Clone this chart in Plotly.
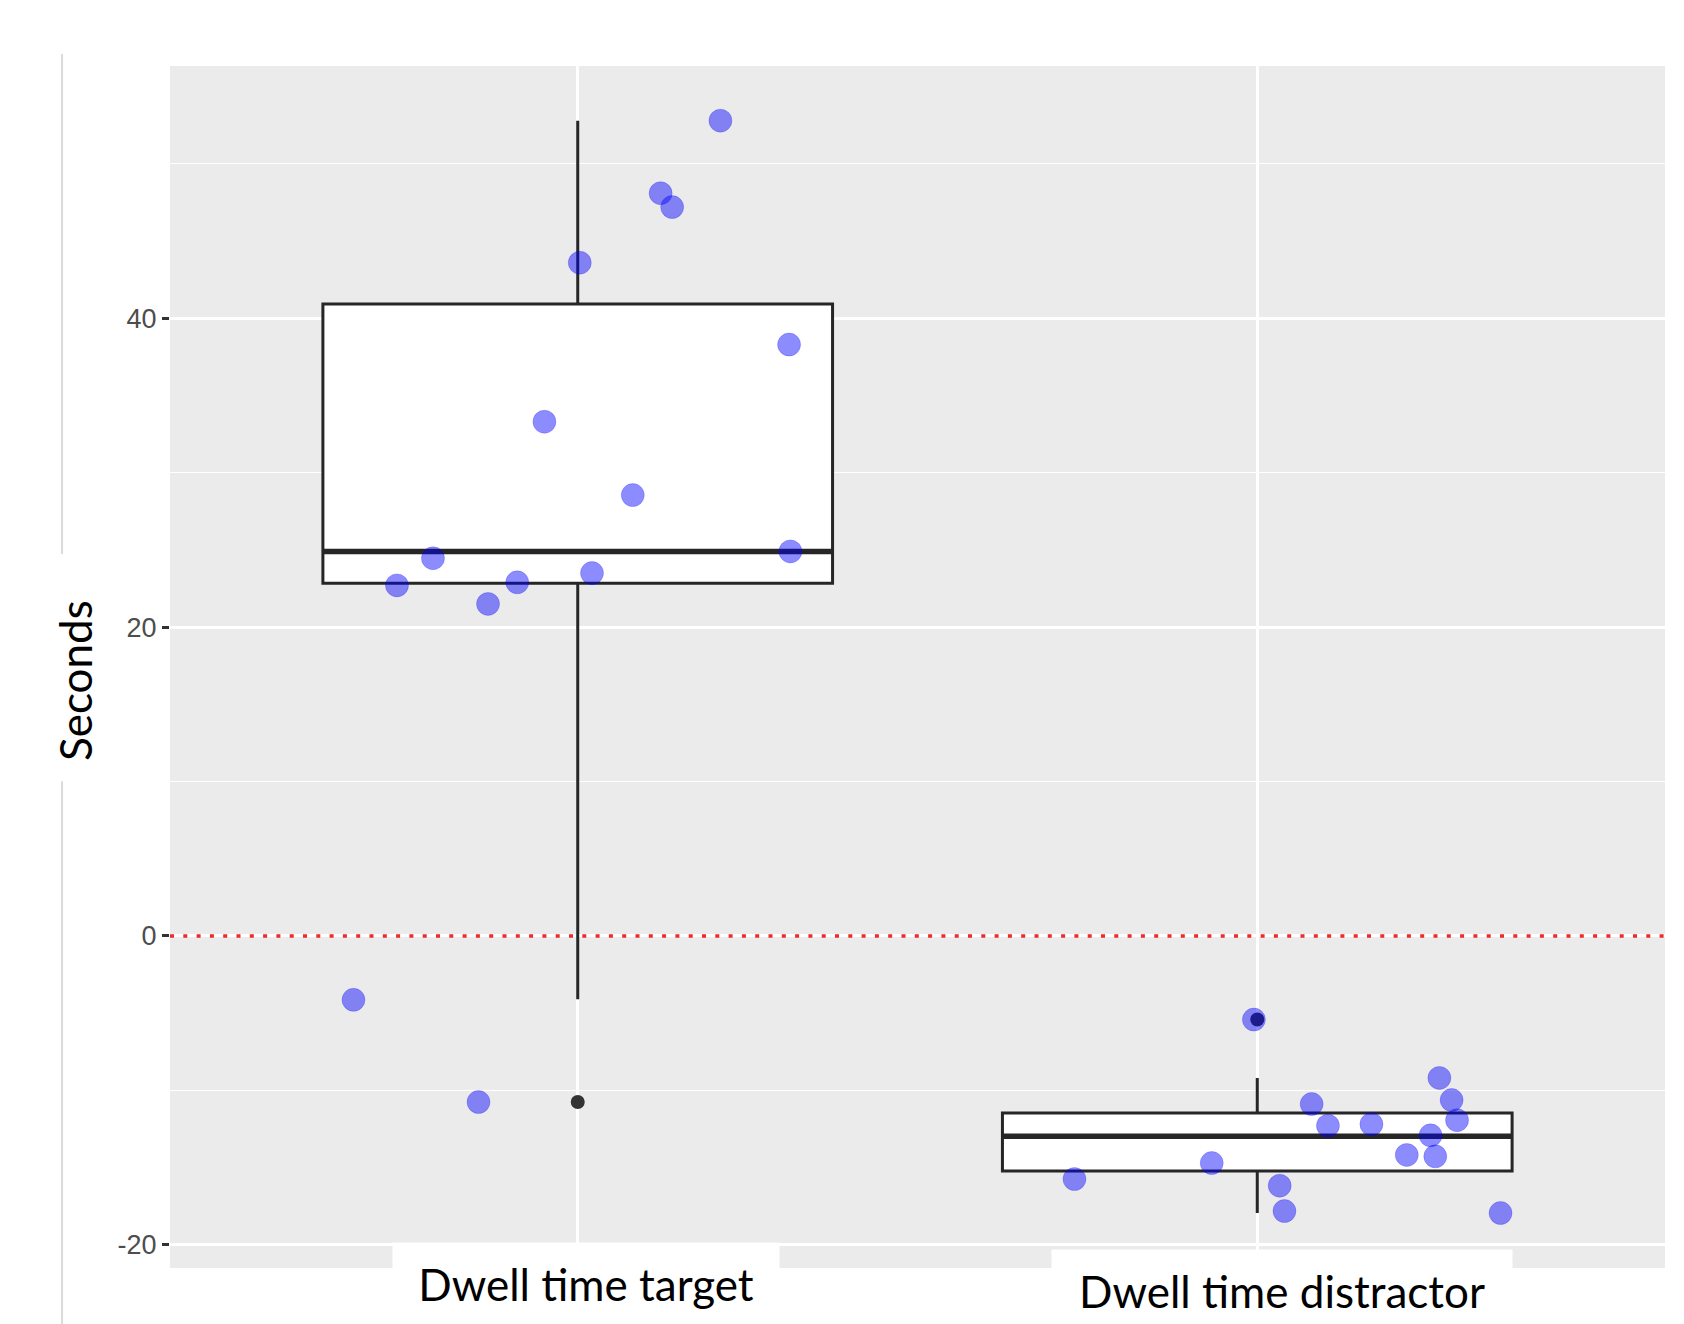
import plotly.graph_objects as go

# categories on the x axis
categories = ['Dwell time target', 'Dwell time distractor']
cat_pos = [1, 2]

# box statistics (seconds)
box_q1 = [22.84, -15.23]
box_median = [24.9, -12.98]
box_q3 = [40.93, -11.47]
box_lower = [-4.1, -17.95]
box_upper = [52.8, -9.2]

# outliers drawn by the boxplot
outlier_x = [1, 2]
outlier_y = [-10.76, -5.42]

# jittered raw points
target_x = [1.210, 1.122, 1.139, 1.003, 1.311, 0.951, 1.081, 1.313, 0.787, 1.021, 0.911, 0.734, 0.868, 0.670, 0.854]
target_y = [52.8, 48.1, 47.2, 43.6, 38.3, 33.3, 28.55, 24.9, 24.46, 23.5, 22.9, 22.7, 21.5, -4.14, -10.76]
distractor_x = [1.995, 1.731, 1.933, 2.033, 2.040, 2.080, 2.104, 2.168, 2.268, 2.286, 2.294, 2.255, 2.220, 2.262, 2.358]
distractor_y = [-5.42, -15.75, -14.71, -16.18, -17.82, -10.89, -12.29, -12.2, -9.2, -10.63, -11.94, -12.92, -14.19, -14.28, -17.95]

ref_line = 0
y_ticks = [-20, 0, 20, 40]
y_tick_text = ['-20', '0', '20', '40']

box_width = 0.75
x_range = [0.4, 2.6]
y_range = [-21.51, 56.34]

label_font = dict(family='Lato', size=44, color='black')


def get_chart():
    fig = go.Figure()

    # red dotted reference line
    fig.add_trace(go.Scatter(x=x_range, y=[ref_line, ref_line], mode='lines',
                             line=dict(color='#EE2A2A', width=3.5, dash='4px,9.3px'),
                             hoverinfo='skip', showlegend=False))

    fig.add_trace(go.Box(x=cat_pos, q1=box_q1, median=box_median, q3=box_q3,
                         lowerfence=box_lower, upperfence=box_upper,
                         width=box_width, whiskerwidth=0, boxpoints=False,
                         fillcolor='white', line=dict(color='#262626', width=3),
                         showlegend=False))

    # thicker median line, like ggplot
    med_x, med_y = [], []
    for c, m in zip(cat_pos, box_median):
        med_x += [c - box_width / 2, c + box_width / 2, None]
        med_y += [m, m, None]
    fig.add_trace(go.Scatter(x=med_x, y=med_y, mode='lines', line=dict(color='#262626', width=5.5),
                             hoverinfo='skip', showlegend=False))

    fig.add_trace(go.Scatter(x=outlier_x, y=outlier_y, mode='markers',
                             marker=dict(color='#333333', size=14), showlegend=False))

    fig.add_trace(go.Scatter(x=target_x + distractor_x, y=target_y + distractor_y, mode='markers',
                             marker=dict(color='rgba(0,0,255,0.45)', size=23,
                                         line=dict(color='rgba(0,0,255,0.2)', width=1)),
                             showlegend=False))

    fig.update_layout(
        width=1684, height=1324,
        margin=dict(l=170, r=19, t=66, b=56),
        paper_bgcolor='white', plot_bgcolor='#EBEBEB',
        showlegend=False,
    )
    fig.update_xaxes(range=x_range, tickvals=cat_pos, showticklabels=False, ticks='',
                     showgrid=True, gridcolor='white', gridwidth=2.6, zeroline=False)
    fig.update_yaxes(range=y_range, tickvals=y_ticks, ticktext=y_tick_text, ticks='outside', ticklen=7,
                     tickwidth=2.6, tickcolor='#333333',
                     tickfont=dict(family='Liberation Sans', size=27, color='#4D4D4D'),
                     showgrid=True, gridcolor='white', gridwidth=2.6, zeroline=False,
                     minor=dict(dtick=10, tick0=0, showgrid=True, gridcolor='white', gridwidth=1.3, ticks=''))

    # category labels pasted on white boxes
    shifts = [8, 25]
    box_w = [384, 458]
    y_lab = [-0.0133, -0.0191]
    for i, name in enumerate(categories):
        fig.add_annotation(x=cat_pos[i], y=y_lab[i], xref='x', yref='paper', text=name,
                           showarrow=False, font=label_font, bgcolor='white',
                           width=box_w[i], height=80, xshift=shifts[i], yanchor='middle')

    fig.add_annotation(x=-0.0635, y=0.4884, xref='paper', yref='paper', text='Seconds',
                       textangle=-90, showarrow=False, font=label_font,
                       xanchor='center', yanchor='middle')

    # thin frame line on the left, broken behind the axis title
    for y0, y1 in [(-0.047, 0.405), (0.594, 1.01)]:
        fig.add_shape(type='line', xref='paper', yref='paper', x0=-0.0722, x1=-0.0722, y0=y0, y1=y1,
                      line=dict(color='#DADADA', width=2))
    return fig


fig = get_chart()
fig.write_html("out.html", config={'displayModeBar': False},
               post_script="document.body.style.margin='0';")
